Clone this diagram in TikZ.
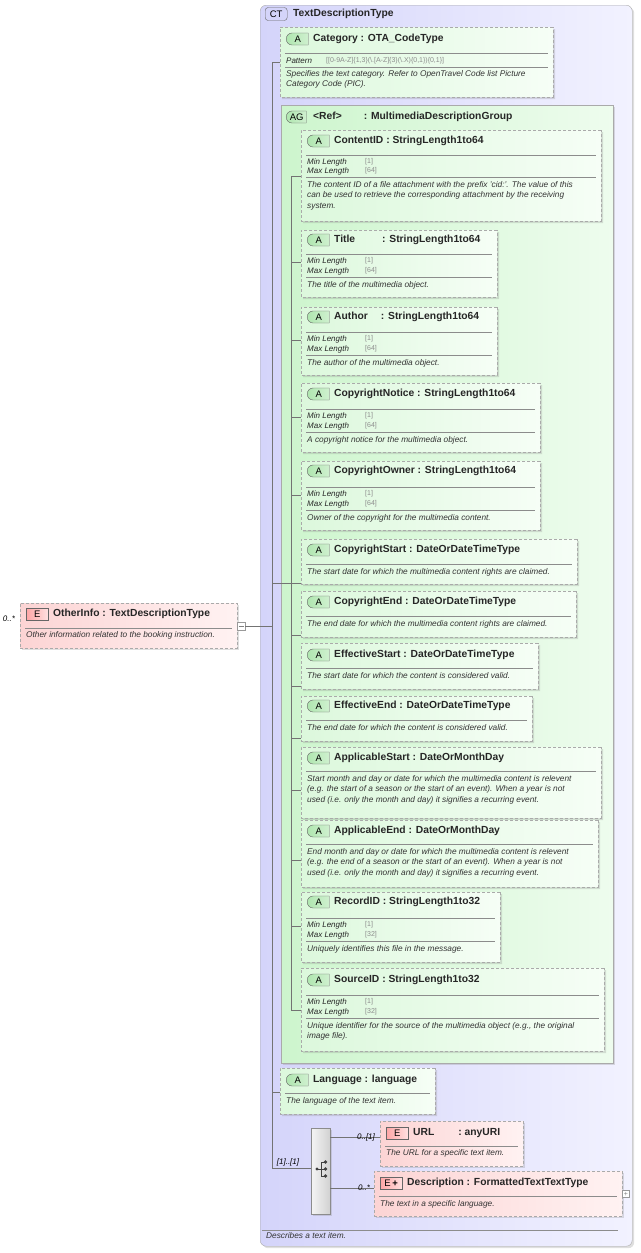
\documentclass[tikz,border=0pt]{standalone}
\usepackage{fontspec}
\setmainfont{Liberation Sans}
\usetikzlibrary{shapes.misc,shadows}
\definecolor{ctfillL}{RGB}{212,212,250}
\definecolor{ctfillR}{RGB}{242,242,255}
\definecolor{agL}{RGB}{205,245,205}
\definecolor{agR}{RGB}{238,252,238}
\definecolor{atL}{RGB}{220,248,220}
\definecolor{atR}{RGB}{246,254,246}
\definecolor{elL}{RGB}{252,212,212}
\definecolor{elR}{RGB}{255,242,242}
\definecolor{bord}{RGB}{170,170,170}
\definecolor{valc}{RGB}{140,140,140}
\definecolor{badgeg}{RGB}{175,230,175}
\tikzset{
 shad/.style={drop shadow={opacity=0.25,shadow xshift=2pt,shadow yshift=-2pt}},
 abox/.style={chamfered rectangle,chamfered rectangle xsep=3pt,chamfered rectangle ysep=3pt,
   chamfered rectangle corners={north west,south west},inner sep=0pt,draw=bord,dashed,
   dash pattern=on 3pt off 2pt,left color=atL,right color=atR,shad,anchor=north west},
 ebox/.style={rectangle,inner sep=0pt,draw=bord,dash pattern=on 3pt off 2pt,left color=elL,right color=elR,shad,anchor=north west},
 hdrtxt/.style={anchor=west,font=\fontsize{10.3}{12}\selectfont\bfseries,inner sep=0pt,text=black!85},
 dsctxt/.style={anchor=north west,font=\fontsize{8.3}{10.4}\selectfont\itshape,inner sep=0pt,align=left,text=black!80},
 fcttxt/.style={anchor=west,font=\fontsize{8}{9}\selectfont\itshape,inner sep=0pt,text=black!85},
 valtxt/.style={anchor=west,font=\fontsize{7}{8}\selectfont,inner sep=0pt,text=valc},
 badgeA/.style={rounded rectangle,rounded rectangle right arc=none,draw=black!60,left color=badgeg,right color=badgeg!60!white,
   minimum width=22pt,minimum height=12pt,inner sep=0pt,font=\fontsize{9.5}{10}\selectfont,anchor=west},
 badgeE/.style={rectangle,draw=black!60,left color=red!35,right color=red!12,
   minimum width=22pt,minimum height=12pt,inner sep=0pt,font=\fontsize{9.5}{10}\selectfont,anchor=west},
 badgeCT/.style={rounded corners=3pt,draw=black!60,fill=ctfillL,
   minimum width=22pt,minimum height=13pt,inner sep=0pt,font=\fontsize{9.5}{10}\selectfont,anchor=west},
 sepl/.style={draw=black!45,line width=0.5pt},
 conn/.style={draw=black!55,line width=0.6pt},
 card/.style={font=\fontsize{8}{9}\selectfont\itshape,inner sep=0pt}
}
\newcommand\mkbox[6]{\node[#6,minimum width=#4pt,minimum height=#5pt] (#1) at (#2,#3) {};}
\newcommand\hdrA[4]{\node[badgeA] at (#1+6,#2) {A}; \node[hdrtxt] (#4) at (#1+33,#2) {#3};}
\newcommand\hdrE[4]{\node[badgeE] at (#1+6,#2) {E}; \node[hdrtxt] (#4) at (#1+33,#2) {#3};}
\newcommand\sepline[3]{\draw[sepl] (#1+5,#3) -- (#2-5,#3);}
\newcommand\fct[4]{\node[fcttxt] at (#1+6,#2) {#3}; \node[valtxt] at (#1+64,#2) {#4};}
\newcommand\dsc[4]{\node[dsctxt] (#4) at (#1+6,#2) {#3};}
\begin{document}
\begin{tikzpicture}[x=1pt,y=-1pt]
\useasboundingbox (0,0) rectangle (640,1253);
% CT outer
\node[rounded corners=6pt,draw=bord,left color=ctfillL,right color=ctfillR,minimum width=372pt,minimum height=1241pt,anchor=north west,inner sep=0pt,shad] (ct) at (260,5) {};
\node[badgeCT] at (265,14) {CT};
\node[hdrtxt] (cttitle) at (293,14) {TextDescriptionType};
\draw[sepl] (262,1230) -- (618,1230);
\node[dsctxt] (ctdesc) at (266,1232) {Describes a text item.};
% Category
\mkbox{cat}{280}{27}{273}{70}{abox}
\hdrA{280}{39}{Category : OTA\_CodeType}{catH}
\sepline{280}{553}{53}
\node[fcttxt] at (286,61) {Pattern};
\node[valtxt] at (326,61) {[[0-9A-Z]\{1,3\}(\textbackslash.[A-Z]\{3\}(\textbackslash.X)\{0,1\})\{0,1\}]};
\sepline{280}{553}{67}
\dsc{280}{70}{Specifies the text category. Refer to OpenTravel Code list Picture\\Category Code (PIC).}{catD}
% AG
\node[rectangle,draw=bord,left color=agL,right color=agR,minimum width=332pt,minimum height=958pt,anchor=north west,inner sep=0pt,shad] (ag) at (281,105) {};
\node[badgeA,minimum width=20pt] at (286,117) {AG};
\node[hdrtxt] (agH) at (313,117) {<Ref>\hspace{22pt}: MultimediaDescriptionGroup};
% ContentID
\mkbox{cid}{301}{130}{300}{91}{abox}
\hdrA{301}{141}{ContentID : StringLength1to64}{cidH}
\sepline{301}{601}{155}
\fct{301}{162}{Min Length}{[1]}\fct{301}{171}{Max Length}{[64]}
\sepline{301}{601}{177}
\dsc{301}{181}{The content ID of a file attachment with the prefix 'cid:'. The value of this\\can be used to retrieve the corresponding attachment by the receiving\\system.}{cidD}
% Title
\mkbox{tit}{301}{230}{196}{67}{abox}
\hdrA{301}{240}{Title\hspace{27pt}: StringLength1to64}{titH}
\sepline{301}{497}{254}
\fct{301}{261}{Min Length}{[1]}\fct{301}{271}{Max Length}{[64]}
\sepline{301}{497}{277}
\dsc{301}{281}{The title of the multimedia object.}{titD}
% Author
\mkbox{aut}{301}{307}{196}{68}{abox}
\hdrA{301}{317}{Author\hspace{13pt}: StringLength1to64}{autH}
\sepline{301}{497}{332}
\fct{301}{339}{Min Length}{[1]}\fct{301}{349}{Max Length}{[64]}
\sepline{301}{497}{355}
\dsc{301}{359}{The author of the multimedia object.}{autD}
% CopyrightNotice
\mkbox{cpn}{301}{383}{239}{69}{abox}
\hdrA{301}{394}{CopyrightNotice : StringLength1to64}{cpnH}
\sepline{301}{540}{409}
\fct{301}{416}{Min Length}{[1]}\fct{301}{426}{Max Length}{[64]}
\sepline{301}{540}{432}
\dsc{301}{436}{A copyright notice for the multimedia object.}{cpnD}
% CopyrightOwner
\mkbox{cpo}{301}{461}{239}{69}{abox}
\hdrA{301}{471}{CopyrightOwner : StringLength1to64}{cpoH}
\sepline{301}{540}{487}
\fct{301}{494}{Min Length}{[1]}\fct{301}{504}{Max Length}{[64]}
\sepline{301}{540}{510}
\dsc{301}{514}{Owner of the copyright for the multimedia content.}{cpoD}
% CopyrightStart
\mkbox{cps}{301}{539}{276}{45}{abox}
\hdrA{301}{550}{CopyrightStart : DateOrDateTimeType}{cpsH}
\sepline{301}{577}{564}
\dsc{301}{568}{The start date for which the multimedia content rights are claimed.}{cpsD}
% CopyrightEnd
\mkbox{cpe}{301}{591}{275}{46}{abox}
\hdrA{301}{602}{CopyrightEnd : DateOrDateTimeType}{cpeH}
\sepline{301}{576}{616}
\dsc{301}{620}{The end date for which the multimedia content rights are claimed.}{cpeD}
% EffectiveStart
\mkbox{efs}{301}{643}{237}{46}{abox}
\hdrA{301}{655}{EffectiveStart : DateOrDateTimeType}{efsH}
\sepline{301}{538}{668}
\dsc{301}{672}{The start date for which the content is considered valid.}{efsD}
% EffectiveEnd
\mkbox{efe}{301}{696}{231}{45}{abox}
\hdrA{301}{706}{EffectiveEnd : DateOrDateTimeType}{efeH}
\sepline{301}{532}{720}
\dsc{301}{724}{The end date for which the content is considered valid.}{efeD}
% ApplicableStart
\mkbox{aps}{301}{747}{300}{71}{abox}
\hdrA{301}{758}{ApplicableStart : DateOrMonthDay}{apsH}
\sepline{301}{601}{771}
\dsc{301}{775}{Start month and day or date for which the multimedia content is relevent\\(e.g. the start of a season or the start of an event). When a year is not\\used (i.e. only the month and day) it signifies a recurring event.}{apsD}
% ApplicableEnd
\mkbox{ape}{301}{820}{297}{67}{abox}
\hdrA{301}{831}{ApplicableEnd : DateOrMonthDay}{apeH}
\sepline{301}{598}{844}
\dsc{301}{848}{End month and day or date for which the multimedia content is relevent\\(e.g. the end of a season or the start of an event). When a year is not\\used (i.e. only the month and day) it signifies a recurring event.}{apeD}
% RecordID
\mkbox{rid}{301}{892}{199}{70}{abox}
\hdrA{301}{902}{RecordID : StringLength1to32}{ridH}
\sepline{301}{500}{918}
\fct{301}{925}{Min Length}{[1]}\fct{301}{935}{Max Length}{[32]}
\sepline{301}{500}{941}
\dsc{301}{945}{Uniquely identifies this file in the message.}{ridD}
% SourceID
\mkbox{sid}{301}{968}{303}{83}{abox}
\hdrA{301}{980}{SourceID : StringLength1to32}{sidH}
\sepline{301}{604}{995}
\fct{301}{1002}{Min Length}{[1]}\fct{301}{1012}{Max Length}{[32]}
\sepline{301}{604}{1018}
\dsc{301}{1022}{Unique identifier for the source of the multimedia object (e.g., the original\\image file).}{sidD}
% Language
\mkbox{lang}{280}{1068}{155}{46}{abox}
\hdrA{280}{1080}{Language : language}{langH}
\sepline{280}{435}{1093}
\dsc{280}{1097}{The language of the text item.}{langD}
% sequence
\node[rectangle,draw=black!45,left color=black!4,right color=black!18,minimum width=19pt,minimum height=86pt,anchor=north west,inner sep=0pt,shad] (seq) at (311,1128) {};
\coordinate (ic) at (317,1169);
\draw[black!75,line width=0.7pt] (ic) -- (321,1169) (321,1162) -- (321,1176) (321,1162) -- (325,1162) (321,1176) -- (325,1176) (321,1169)--(325,1169);
\fill[black!75] (ic) circle (1.7pt) (325.5,1162) circle (1.9pt) (325.5,1169) circle (1.9pt) (325.5,1176) circle (1.9pt);
% URL
\mkbox{url}{380}{1121}{143}{45}{ebox}
\hdrE{380}{1133}{URL\hspace{24pt}: anyURI}{urlH}
\sepline{380}{523}{1146}
\dsc{380}{1149}{The URL for a specific text item.}{urlD}
% Description
\mkbox{desc}{374}{1171}{248}{45}{ebox}
\node[badgeE] at (380,1183) {E\,\textbf{+}};
\node[hdrtxt] (descH) at (407,1183) {Description : FormattedTextTextType};
\sepline{374}{622}{1196}
\dsc{374}{1200}{The text in a specific language.}{descD}
\node[draw=black!40,fill=white,minimum size=7pt,inner sep=0pt,font=\fontsize{7}{7}\selectfont,text=black!50] (dplus) at (626,1194) {+};
% OtherInfo
\mkbox{oi}{20}{603}{217}{45}{ebox}
\hdrE{20}{614}{OtherInfo : TextDescriptionType}{oiH}
\sepline{20}{237}{628}
\dsc{20}{631}{Other information related to the booking instruction.}{oiD}
\node[card] (oicard) at (9,619) {0..*};
\node[draw=black!40,fill=white,minimum size=8pt,inner sep=0pt] (oim) at (241,626) {};
\draw[black!50] (238.5,626) -- (243.5,626);
% connectors
\coordinate (trunk0) at (272,62);
\coordinate (trunk1) at (272,1168);
\draw[conn] (oim.east) -- (272,626);
\draw[conn] (trunk0) -- (trunk1);
\draw[conn] (trunk0) -- (cat.west |- trunk0);
\draw[conn] (272,1092) -- (lang.west |- 272,1092);
\draw[conn] (272,583) -- (291,583);
\draw[conn] (trunk1) -- (seq.west |- trunk1);
\node[card] at (288,1162) {[1]..[1]};
\draw[conn] (291,176) -- (291,1010);
\foreach \b/\yy in {cid/176,tit/262,aut/340,cpn/417,cpo/495,cps/583,cpe/635,efs/686,efe/738,aps/790,ape/860,rid/926,sid/1010}{
  \draw[conn] (291,\yy) -- (\b.west |- 291,\yy);
}
\draw[conn] (330,1137) -- (url.west |- 330,1137);
\node[card] at (366,1137) {0..[1]};
\draw[conn] (330,1188) -- (desc.west |- 330,1188);
\node[card] at (364,1188) {0..*};
\end{tikzpicture}
\end{document}
